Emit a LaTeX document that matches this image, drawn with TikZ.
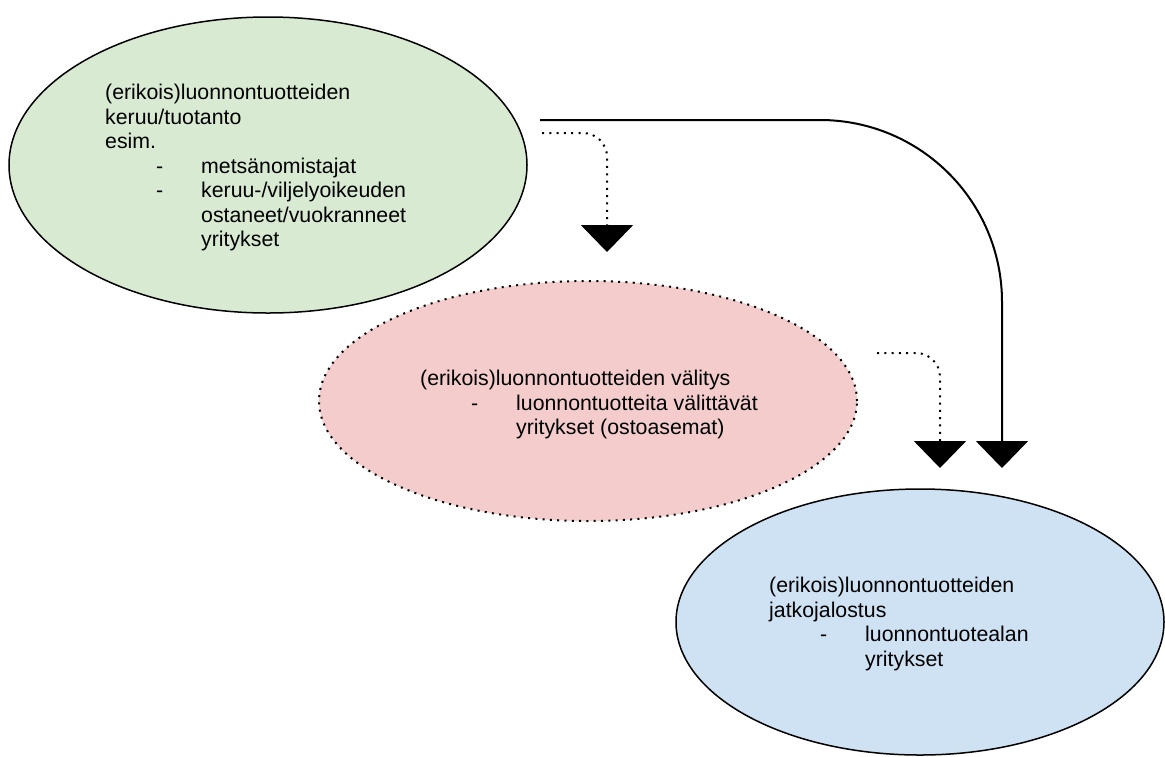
\documentclass[tikz,border=0pt]{standalone}
\usepackage{fontspec}
\setmainfont{Liberation Sans}
\usetikzlibrary{shapes.geometric,arrows.meta}
\definecolor{gfill}{HTML}{D9EAD3}
\definecolor{pfill}{HTML}{F4CCCC}
\definecolor{bfill}{HTML}{CFE2F3}
\newcommand{\indbox}[1]{\makebox[96pt][l]{\hspace*{51pt}#1}}
\begin{document}
\begin{tikzpicture}[x=1pt,y=-1pt,
  blob/.style={ellipse, draw=black, line width=1.5pt, inner sep=0pt},
  dotline/.style={line width=2pt, dash pattern=on 2pt off 5.3pt},
  lbl/.style={anchor=base west, inner sep=0pt, font=\fontsize{21.3}{24.5}\selectfont},
  flow/.style={line width=2pt, -{Triangle[length=27pt,width=52pt]}},
]
\useasboundingbox (0,0) rectangle (1165,756);
\node[blob, fill=gfill, minimum width=518pt, minimum height=296pt] (green) at (268,165) {};
\node[blob, fill=pfill, dotline, minimum width=538pt, minimum height=240pt] (pink) at (588,401) {};
\node[blob, fill=bfill, minimum width=488pt, minimum height=266pt] (blue) at (920,622) {};

\node[lbl] (gt) at (105,99.5) {\begin{tabular}[t]{@{}l@{}}(erikois)luonnontuotteiden\\ keruu/tuotanto\\ esim.\\ \indbox{-}metsänomistajat\\ \indbox{-}keruu-/viljelyoikeuden\\ \indbox{}ostaneet/vuokranneet\\ \indbox{}yritykset\end{tabular}};
\node[lbl] (pt) at (420,385.5) {\begin{tabular}[t]{@{}l@{}}(erikois)luonnontuotteiden välitys\\ \indbox{-}luonnontuotteita välittävät\\ \indbox{}yritykset (ostoasemat)\end{tabular}};
\node[lbl] (bt) at (769,592.5) {\begin{tabular}[t]{@{}l@{}}(erikois)luonnontuotteiden\\ jatkojalostus\\ \indbox{-}luonnontuotealan\\ \indbox{}yritykset\end{tabular}};

\coordinate (s1) at (540,120);
\coordinate (t1) at (1002,468);
\draw[flow, rounded corners=182pt] (s1) -| (t1);
\coordinate (s2) at (542,133);
\coordinate (t2) at (607,252);
\draw[flow, dotline, rounded corners=24pt] (s2) -| (t2);
\coordinate (s3) at (877,353);
\coordinate (t3) at (940,468);
\draw[flow, dotline, rounded corners=24pt] (s3) -| (t3);
\end{tikzpicture}
\end{document}
